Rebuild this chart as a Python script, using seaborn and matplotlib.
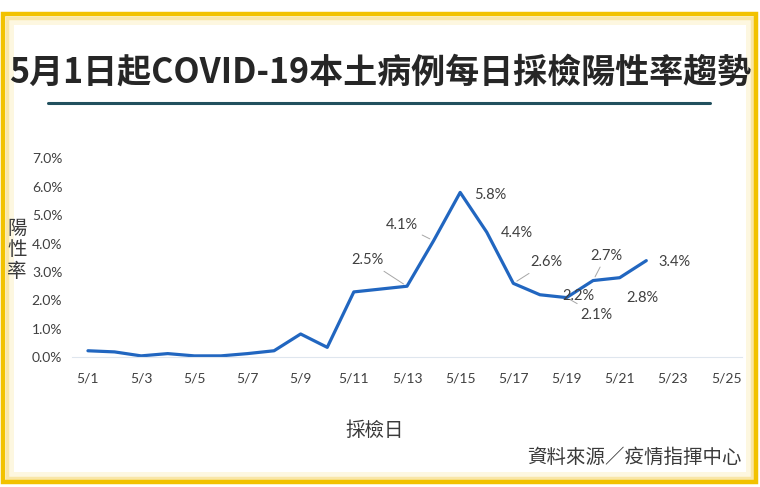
import pandas as pd
import matplotlib
matplotlib.use("Agg")
import matplotlib.pyplot as plt
import seaborn as sns
import matplotlib.ticker as ticker
from matplotlib.lines import Line2D
from matplotlib.patches import Rectangle

# data
axis_days = ["5/1", "5/2", "5/3", "5/4", "5/5", "5/6", "5/7", "5/8", "5/9",
             "5/10", "5/11", "5/12", "5/13", "5/14", "5/15", "5/16", "5/17",
             "5/18", "5/19", "5/20", "5/21", "5/22", "5/23", "5/24", "5/25"]
data_days = axis_days[:22]
pos_rate = [0.23, 0.19, 0.05, 0.13, 0.05, 0.05, 0.13, 0.23, 0.82, 0.35,
            2.3, 2.4, 2.5, 4.1, 5.8, 4.4, 2.6, 2.2, 2.1, 2.7, 2.8, 3.4]
labelled_days = ["5/13", "5/14", "5/15", "5/16", "5/17", "5/18", "5/19",
                 "5/20", "5/21", "5/22"]
x_tick_labels = ["5/1", "5/3", "5/5", "5/7", "5/9", "5/11", "5/13", "5/15",
                 "5/17", "5/19", "5/21", "5/23", "5/25"]
y_ticks = [0, 1, 2, 3, 4, 5, 6, 7]

title = "5月1日起COVID-19本土病例每日採檢陽性率趨勢"
source = "資料來源／疫情指揮中心"

# label placement (pixel offsets from the point) and which ones get a leader line
label_offsets = {"5/13": (-40, 26), "5/14": (-32, 16), "5/15": (30, -3),
                 "5/16": (30, -1), "5/17": (33, 21), "5/18": (38, -1),
                 "5/19": (30, -17), "5/20": (13, 25), "5/21": (23, -20),
                 "5/22": (28, -1)}
leaders = ["5/13", "5/14", "5/17", "5/19", "5/20"]

df = pd.DataFrame({"day": data_days, "rate": pos_rate})
df["x"] = [axis_days.index(d) for d in df["day"]]

sns.set_style("white")
plt.rcParams["font.family"] = ["Noto Sans CJK TC", "DejaVu Sans"]
num_font = ["Lato", "DejaVu Sans"]
txt_color = "#404040"

fig = plt.figure(figsize=(7.6, 4.87), dpi=100)
ax = fig.add_axes([72 / 760, 129.7 / 487, 670 / 760, 199 / 487])
ax.set_zorder(2)
ax.patch.set_alpha(0)

sns.lineplot(data=df, x="x", y="rate", color="#2166c0", linewidth=2.3, ax=ax)

ax.set_xlim(-0.6, 24.6)
ax.set_ylim(0, 7)
ax.set_xticks([axis_days.index(d) for d in x_tick_labels])
ax.set_xticklabels(x_tick_labels)
ax.set_yticks(y_ticks)
ax.yaxis.set_major_formatter(ticker.FuncFormatter(lambda v, p: f"{v:.1f}%"))
ax.tick_params(axis="both", length=0, labelsize=10, labelcolor=txt_color)
ax.tick_params(axis="y", pad=7)
ax.tick_params(axis="x", pad=11)
for lab in ax.get_xticklabels() + ax.get_yticklabels():
    lab.set_family(num_font)

for s in ["top", "right", "left"]:
    ax.spines[s].set_visible(False)
ax.spines["bottom"].set_color("#dfe6ee")
ax.spines["bottom"].set_linewidth(0.8)

ax.set_xlabel("採檢日", fontsize=14, color="#3a3a3a", va="center")
ax.xaxis.set_label_coords(0.452, -0.365)
ax.set_ylabel("陽\n性\n率", rotation=0, fontsize=14, color="#3a3a3a",
              linespacing=1.05, va="center", ha="center")
ax.yaxis.set_label_coords(-0.082, 0.54)

# data labels
for d in labelled_days:
    v = pos_rate[data_days.index(d)]
    dx, dy = label_offsets[d]
    arrow = None
    if d in leaders:
        arrow = dict(arrowstyle="-", color="#a6a6a6", lw=0.7, shrinkA=1, shrinkB=3)
    ax.annotate(f"{v:.1f}%", xy=(axis_days.index(d), v), xytext=(dx, dy),
                textcoords="offset pixels", ha="center", va="center",
                fontsize=10.5, color=txt_color, family=num_font,
                arrowprops=arrow)

# title, rule and source
fig.text(0.5, 1 - 72 / 487, title, ha="center", va="center", fontsize=24.5,
         fontweight="bold", color="#262626", zorder=3)
fig.add_artist(Line2D([48 / 760, 710 / 760], [1 - 103 / 487, 1 - 103 / 487],
                      transform=fig.transFigure, color="#21505e", linewidth=2.2))
fig.text(742 / 760, 1 - 457 / 487, source, ha="right", va="center",
         fontsize=14, color="#3a3a3a", zorder=3)

# gold frame with soft glow, kept below the text
for inset, col, lw in [(7, "#fdf7e0", 5), (4, "#f9e6a6", 2.5), (0, "#f2c200", 3.2)]:
    fig.add_artist(Rectangle(((2.5 + inset) / 760, (5 + inset) / 487),
                             (753 - 2 * inset) / 760, (468 - 2 * inset) / 487,
                             transform=fig.transFigure, fill=False,
                             edgecolor=col, linewidth=lw, zorder=0))

fig.savefig("out.png", dpi=100)
